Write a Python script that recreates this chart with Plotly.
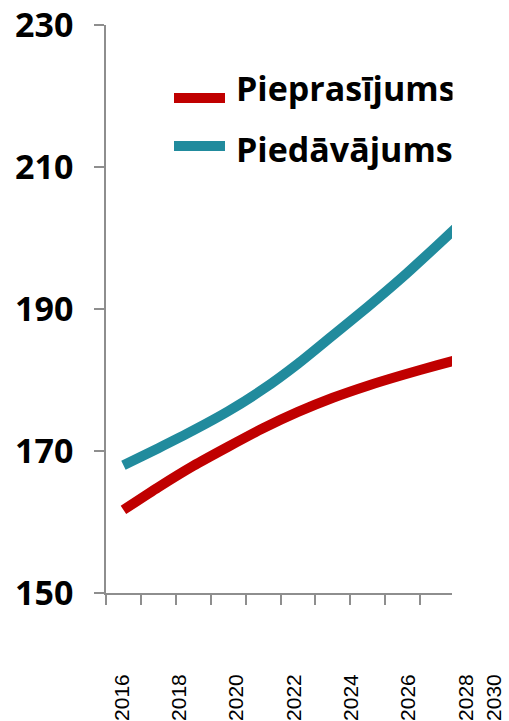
import plotly.graph_objects as go

years = [2016, 2017, 2018, 2019, 2020, 2021, 2022, 2023, 2024, 2025, 2026]
demand = [161.7, 164.9, 167.9, 170.6, 173.2, 175.5, 177.5, 179.2, 180.7, 182.1, 183.4]
supply = [168.0, 170.4, 172.9, 175.6, 178.7, 182.3, 186.3, 190.3, 194.5, 199.0, 203.6]
names = ["Pieprasījums", "Piedāvājums"]
colors = ["#C00000", "#218B9D"]
y_ticks = [150, 170, 190, 210, 230]
x_label_text = ["2016", "2018", "2020", "2022", "2024", "2026", "2028", "2030"]
x_label_pos = [2016, 2018, 2020, 2022, 2024, 2026, 2028, 2029]

W, H = 509, 721
L, R, T, B = 106, 2, 25, 721 - 593
pw = W - L - R
ph = H - T - B
axis_col = "#8E8E8E"

fig = go.Figure()
for vals, col, nm in zip([demand, supply], colors, names):
    fig.add_trace(go.Scatter(x=years, y=vals, mode="lines", name=nm,
                             line=dict(color=col, width=10, shape="spline", smoothing=0.6),
                             showlegend=False, hoverinfo="skip"))
fig.add_trace(go.Scatter(x=[None], y=[None], xaxis="x2", showlegend=False, hoverinfo="skip"))

data_right = 452
fig.update_layout(
    width=W, height=H,
    margin=dict(l=L, r=R, t=T, b=B, pad=0, autoexpand=False),
    paper_bgcolor="white", plot_bgcolor="rgba(0,0,0,0)",
    xaxis=dict(domain=[0, (data_right - L) / pw], range=[2015.5, 2015.5 + (data_right - L) / 34.9],
               automargin=False,
               showgrid=False, zeroline=False, showline=True, linecolor=axis_col, linewidth=1.5,
               ticks="outside", tick0=2015.5, dtick=1, ticklen=10, tickwidth=1.5, tickcolor=axis_col,
               showticklabels=False),
    xaxis2=dict(domain=[0, 1], anchor="y", automargin=False,
                range=[2016 - 15.7 / 28.67, 2016 + (W - R - 121.7) / 28.67],
                showgrid=False, zeroline=False, showline=False, ticks="",
                tickmode="array", tickvals=x_label_pos, ticktext=x_label_text,
                tickangle=-90, ticklabelstandoff=76, ticklabeloverflow="allow",
                tickfont=dict(family="Liberation Sans, Arial", size=21, color="#000")),
    yaxis=dict(range=[150, 230], tickmode="array", tickvals=y_ticks, automargin=False,
               showgrid=False, zeroline=False, showline=True, linecolor=axis_col, linewidth=1.5,
               ticks="outside", ticklen=10, tickwidth=1.5, tickcolor=axis_col,
               ticklabelstandoff=14, ticklabeloverflow="allow",
               tickfont=dict(family="Open Sans", size=34, color="#000", weight="bold")),
)

def px_x(p):
    return (p - L) / pw

def px_y(p):
    return (H - B - p) / ph

leg = [(98, 88, names[0], colors[0]), (146, 149, names[1], colors[1])]
for ly, ty, nm, col in leg:
    fig.add_shape(type="line", xref="paper", yref="paper", x0=px_x(174), x1=px_x(225),
                  y0=px_y(ly), y1=px_y(ly), line=dict(color=col, width=10))
    fig.add_annotation(xref="paper", yref="paper", x=px_x(234), y=px_y(ty), xanchor="left",
                       yanchor="middle", text=nm, showarrow=False,
                       font=dict(family="Open Sans", size=34, color="#000", weight="bold"))
# clip legend text at the plot edge like the reference
fig.add_annotation(xref="paper", yref="paper", x=px_x(452), y=px_y(60), xanchor="left",
                   yanchor="top", text=" ", showarrow=False, bgcolor="white",
                   width=W - data_right, height=120, borderpad=0)

fig.write_html("out.html", config={"displayModeBar": False},
               post_script="document.body.style.margin='0';")
